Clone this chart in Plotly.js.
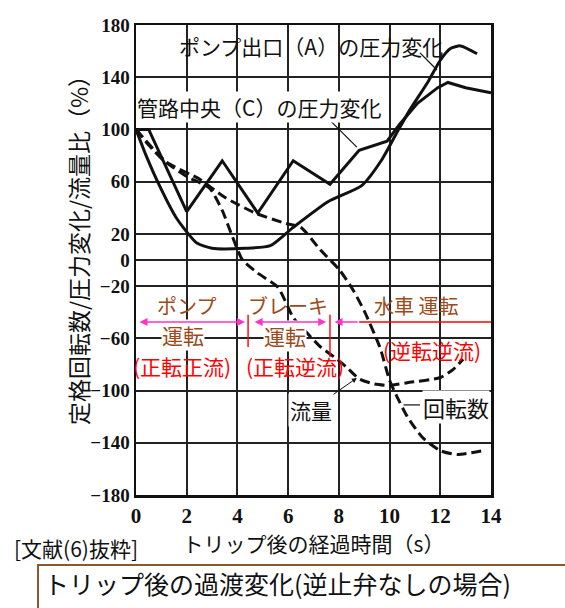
<!DOCTYPE html>
<html>
<head>
<meta charset="utf-8">
<script src="https://cdn.plot.ly/plotly-3.0.1.min.js"></script>
<style>html,body{margin:0;padding:0;background:#fff;}#chart{width:565px;height:608px;}</style>
</head>
<body>
<div id="chart"></div>
<script>
// ---- data ----
const xTicks = [0, 2, 4, 6, 8, 10, 12, 14];
const yTicks = [180, 140, 100, 60, 20, 0, -20, -60, -100, -140, -180];

// ポンプ出口(A)の圧力変化
const pressAX = [0, 0.4, 0.95, 1.6, 2.4, 3.0, 4.3, 5.3, 6.2, 7.6, 8.9, 9.7, 10.3, 10.8, 11.5, 12.0, 12.4, 12.8, 13.45];
const pressAY = [100, 80, 56, 32, 13, 9, 9, 11, 25, 45, 57, 77, 98, 115, 136, 153, 162, 164, 158];

// 管路中央(C)の圧力変化
const pressCX = [0, 0.5, 2.0, 3.4, 4.8, 6.2, 7.65, 8.8, 9.9, 10.4, 11.1, 11.9, 12.3, 13.0, 14.0];
const pressCY = [100, 100, 37, 76, 36, 76, 58, 84, 91, 104, 120, 132, 136, 132, 128];

// 流量
const flowX = [0, 0.5, 1.1, 2.0, 2.9, 3.4, 3.8, 4.2, 4.8, 5.6, 6.2, 6.75, 7.3, 7.8, 8.3, 8.8, 9.4, 10.0, 10.7, 12.0, 12.5, 12.9];
const flowY = [100, 88, 76, 64, 55, 38, 18, 0, -10, -21, -44, -56, -67, -74, -82, -91, -95, -96, -94, -90, -84, -76];

// 回転数
const speedX = [0, 1.2, 2.5, 3.5, 4.7, 5.9, 6.5, 7.26, 8.04, 8.56, 9.0, 9.62, 10.0, 10.3, 10.7, 11.3, 12.0, 12.66, 13.7];
const speedY = [100, 75, 62, 48, 36, 28, 25, 8, -8, -23, -39, -67, -92, -105, -120, -136, -146, -149, -146];

// ---- text ----
const labelA = 'ポンプ出口（A）の圧力変化';
const labelC = '管路中央（C）の圧力変化';
const labelFlow = '流量';
const labelSpeed = '回転数';
const xTitle = 'トリップ後の経過時間（s）';
const yTitle = '定格回転数/圧力変化/流量比（%）';
const sourceText = '[文献(6)抜粋]';
const captionText = 'トリップ後の過渡変化(逆止弁なしの場合)';

const JP = '"Noto Sans CJK JP", "Noto Sans", sans-serif';
const BROWN = '#9c4a1a';
const RED = '#ff0000';
const MAG = '#ff33cc';
const INK = '#111111';

const traces = [
  {x: pressAX, y: pressAY, mode: 'lines', line: {color: INK, width: 3, shape: 'spline', smoothing: 0.6}, name: labelA},
  {x: pressCX, y: pressCY, mode: 'lines', line: {color: INK, width: 3}, name: labelC},
  {x: flowX, y: flowY, mode: 'lines', line: {color: INK, width: 3, dash: '10px,5px', shape: 'spline', smoothing: 0.6}, name: labelFlow},
  {x: speedX, y: speedY, mode: 'lines', line: {color: INK, width: 3, dash: '10px,5px', shape: 'spline', smoothing: 0.6}, name: labelSpeed}
];

function txt(text, x, y, size, color, bg) {
  return {text: text, x: x, y: y, xref: 'x', yref: 'y', showarrow: false,
          font: {family: JP, size: size, color: color}, bgcolor: bg || 'rgba(0,0,0,0)', borderpad: 0};
}
function arrow(x0, x1, y, side, color) {
  return {text: '', x: x1, y: y, ax: x0, ay: y, xref: 'x', yref: 'y', axref: 'x', ayref: 'y',
          showarrow: true, arrowhead: 2, arrowside: side, arrowsize: 1, arrowwidth: 1.6,
          arrowcolor: color, standoff: 0, startstandoff: 0};
}

const annotations = [
  txt(labelA, 6.9, 164, 21, INK),
  txt(labelC, 4.85, 117, 21, INK, 'white'),
  txt(labelSpeed, 12.62, -112.6, 22, INK, 'white'),
  {text: labelFlow, x: 8.71, y: -90.4, ax: 6.9, ay: -114.9, xref: 'x', yref: 'y', axref: 'x', ayref: 'y',
   showarrow: true, arrowhead: 2, arrowsize: 1, arrowwidth: 1, arrowcolor: INK,
   font: {family: JP, size: 21, color: INK}, bgcolor: 'white'},
  txt('ポンプ', 2.01, -35.2, 20, BROWN),
  txt('ブレーキ', 5.99, -35.2, 20, BROWN),
  txt('水車 運転', 11.04, -35.2, 20, BROWN),
  txt('運転', 1.85, -57.6, 21, BROWN, 'white'),
  txt('運転', 5.88, -58.0, 21, BROWN, 'white'),
  txt('(正転正流)', 1.81, -81.2, 21, RED),
  txt('(正転逆流)', 6.27, -81.2, 21, RED),
  txt('(逆転逆流)', 11.67, -68.9, 21, RED),
  arrow(0.08, 4.3, -47.5, 'end+start', MAG),
  arrow(4.62, 7.5, -47.5, 'end+start', MAG),
  arrow(8.8, 7.83, -47.5, 'end', MAG),
  {text: yTitle, xref: 'paper', yref: 'paper', x: -0.163, y: 0.532, xanchor: 'center', yanchor: 'middle',
   textangle: -90, showarrow: false, font: {family: JP, size: 23, color: INK}},
  {text: sourceText, xref: 'paper', yref: 'paper', x: -0.349, y: -0.113, xanchor: 'left', yanchor: 'middle',
   showarrow: false, font: {family: JP, size: 21, color: INK}},
  {text: captionText, xref: 'paper', yref: 'paper', x: -0.265, y: -0.187, xanchor: 'left', yanchor: 'middle',
   showarrow: false, font: {family: JP, size: 25, color: INK}}
];

const shapes = [
  // leader lines
  {type: 'line', xref: 'x', yref: 'y', x0: 11.2, y0: 158.6, x1: 11.87, y1: 145.5, line: {color: INK, width: 1.2}},
  {type: 'line', xref: 'x', yref: 'y', x0: 7.65, y0: 107, x1: 8.71, y1: 86.5, line: {color: INK, width: 1.2}},
  {type: 'line', xref: 'x', yref: 'y', x0: 10.55, y0: -111, x1: 11.2, y1: -111, line: {color: INK, width: 1.2}},
  // red tail of the turbine-operation arrow
  {type: 'line', xref: 'x', yref: 'y', x0: 8.8, y0: -47.5, x1: 14, y1: -47.5, line: {color: RED, width: 1.6}},
  // red region separators
  {type: 'line', xref: 'x', yref: 'y', x0: 4.42, y0: -42, x1: 4.42, y1: -66.6, line: {color: RED, width: 1.4}},
  {type: 'line', xref: 'x', yref: 'y', x0: 7.65, y0: -42, x1: 7.65, y1: -74.3, line: {color: RED, width: 1.4}},
  // caption box
  {type: 'rect', xref: 'paper', yref: 'paper', x0: -0.276, y0: -0.149, x1: 1.25, y1: -0.28,
   line: {color: '#8b5a2b', width: 2}, fillcolor: 'rgba(0,0,0,0)'}
];

const axisCommon = {
  showline: true, linecolor: INK, linewidth: 2.5, mirror: true,
  showgrid: true, gridcolor: '#222222', gridwidth: 2, zeroline: false,
  ticks: '', tickfont: {family: '"Liberation Serif", serif', size: 19, color: INK, weight: 'bold'},
  fixedrange: true
};

const layout = {
  width: 565, height: 608,
  margin: {l: 136, r: 74, t: 25, b: 113},
  paper_bgcolor: '#ffffff', plot_bgcolor: '#ffffff',
  showlegend: false, hovermode: false,
  xaxis: Object.assign({}, axisCommon, {
    range: [0, 14], tickmode: 'array', tickvals: xTicks, ticktext: xTicks.map(String),
    tickfont: {family: '"Liberation Serif", serif', size: 21, color: INK, weight: 'bold'},
    title: {text: xTitle, font: {family: JP, size: 21, color: INK}, standoff: 10}
  }),
  yaxis: Object.assign({}, axisCommon, {
    range: [-180, 180], tickmode: 'array', tickvals: yTicks
  }),
  annotations: annotations,
  shapes: shapes
};

Plotly.newPlot('chart', traces, layout, {displayModeBar: false, staticPlot: true});
</script>
</body>
</html>
